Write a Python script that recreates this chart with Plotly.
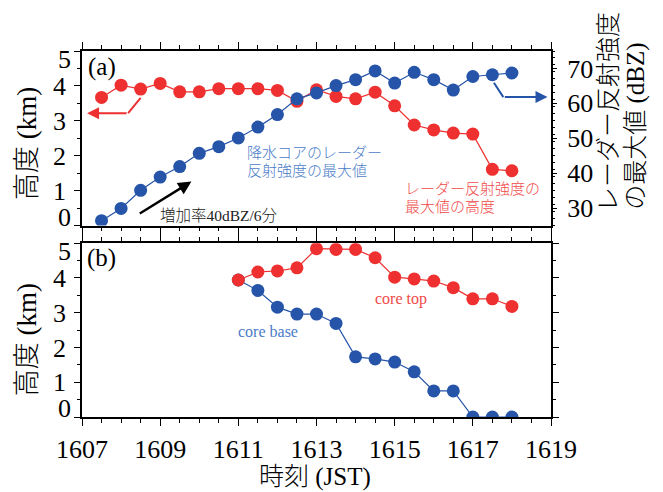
import plotly.graph_objects as go

# Time (JST, HHMM) of each radar scan
times_a = [1607.5, 1608.0, 1608.5, 1609.0, 1609.5, 1610.0, 1610.5, 1611.0, 1611.5, 1612.0, 1612.5,
           1613.0, 1613.5, 1614.0, 1614.5, 1615.0, 1615.5, 1616.0, 1616.5, 1617.0, 1617.5, 1618.0]
# (a) maximum reflectivity of the precipitation core (dBZ)
max_dbz = [26.4, 29.9, 35.1, 38.9, 41.9, 45.7, 47.6, 50.1, 53.2, 56.8, 61.3,
           63.0, 65.1, 66.8, 69.3, 65.8, 68.9, 66.8, 63.8, 67.7, 68.2, 68.7]
# (a) height of the reflectivity maximum (km)
max_height = [3.67, 4.02, 3.91, 4.07, 3.83, 3.83, 3.92, 3.92, 3.92, 3.87, 3.56,
              3.89, 3.70, 3.63, 3.82, 3.43, 2.88, 2.74, 2.65, 2.62, 1.61, 1.57]

times_b = [1611.0, 1611.5, 1612.0, 1612.5, 1613.0, 1613.5, 1614.0, 1614.5,
           1615.0, 1615.5, 1616.0, 1616.5, 1617.0, 1617.5, 1618.0]
# (b) core top / core base heights (km)
core_top = [3.94, 4.17, 4.20, 4.29, 4.84, 4.82, 4.82, 4.58,
            4.02, 3.97, 3.91, 3.72, 3.40, 3.40, 3.18]
core_base = [3.94, 3.64, 3.16, 2.96, 2.96, 2.69, 1.73, 1.67,
             1.58, 1.30, 0.75, 0.75, 0.0, 0.0, 0.0]

x_ticks = [1607, 1609, 1611, 1613, 1615, 1617, 1619]
km_ticks = [0, 1, 2, 3, 4, 5]
# inner labels drawn by the axis; the end labels (0 and 5) are nudged inward as annotations
km_ticktext = ["", "1", "2", "3", "4", ""]
dbz_ticks = [30, 40, 50, 60, 70]

RED = "#EE3030"
BLUE = "#2554A8"
RED_TXT = "#F04848"
BLUE_TXT = "#4A7CC8"
FONT = "Liberation Serif, Noto Sans CJK JP, serif"
TICK_SIZE = 26

fig = go.Figure()

fig.add_trace(go.Scatter(x=times_a, y=max_height, xaxis="x", yaxis="y", mode="lines+markers",
                         line=dict(color=RED, width=1.2), marker=dict(color=RED, size=13),
                         showlegend=False))
fig.add_trace(go.Scatter(x=times_a, y=max_dbz, xaxis="x", yaxis="y2", mode="lines+markers",
                         line=dict(color=BLUE, width=1.2), marker=dict(color=BLUE, size=13),
                         showlegend=False))
fig.add_trace(go.Scatter(x=times_b, y=core_base, xaxis="x2", yaxis="y3", mode="lines+markers",
                         line=dict(color=BLUE, width=1.2), marker=dict(color=BLUE, size=13),
                         showlegend=False))
fig.add_trace(go.Scatter(x=times_b, y=core_top, xaxis="x2", yaxis="y3", mode="lines+markers",
                         line=dict(color=RED, width=1.2), marker=dict(color=RED, size=13),
                         showlegend=False))

tickfont = dict(family=FONT, size=TICK_SIZE, color="black")
common_x = dict(range=[1607, 1619], tickvals=x_ticks, ticks="outside", ticklen=7, tickwidth=1.3,
                tickcolor="black", showline=True, linecolor="black", linewidth=1.5,
                mirror="ticks", showgrid=False, zeroline=False, tickfont=tickfont,
                minor=dict(dtick=0.5, tick0=1607, ticks="outside", ticklen=4, tickcolor="black",
                           tickwidth=1.1, showgrid=False))
common_y = dict(range=[0, 5], tickvals=km_ticks, ticktext=km_ticktext, ticks="outside", ticklen=6,
                tickwidth=1.3, tickcolor="black", showline=True, linecolor="black", linewidth=1.5,
                showgrid=False, zeroline=False, tickfont=tickfont, ticklabelstandoff=3,
                minor=dict(dtick=0.5, tick0=0, ticks="outside", ticklen=3, tickcolor="black",
                           tickwidth=1.1, showgrid=False))

top_dom = [0.523, 1.0]
bot_dom = [0.0, 0.475]

fig.update_layout(
    width=663, height=492,
    margin=dict(l=82, r=112, t=51, b=75),
    paper_bgcolor="white", plot_bgcolor="white",
    font=dict(family=FONT, color="black"),
    xaxis=dict(common_x, anchor="y", showticklabels=False),
    yaxis=dict(common_y, domain=top_dom, anchor="x", mirror=True),
    yaxis2=dict(range=[25, 75], tickvals=dbz_ticks, overlaying="y", side="right",
                anchor="x", ticks="outside", ticklen=5, tickwidth=1.3, tickcolor="black",
                showline=False, showgrid=False, zeroline=False, tickfont=tickfont,
                ticklabelstandoff=5,
                minor=dict(dtick=2, tick0=25, ticks="outside", ticklen=3, tickcolor="black",
                           tickwidth=1.0, showgrid=False)),
    xaxis2=dict(common_x, anchor="y3", showticklabels=True, ticklabelstandoff=1),
    yaxis3=dict(common_y, domain=bot_dom, anchor="x2", mirror="ticks"),
)

ann = []
# end labels of the height axes, nudged inward
for yref, pos in (("y", [(0, 0.22), (5, 4.76)]), ("y3", [(0, 0.25), (5, 4.77)])):
    for val, ypos in pos:
        ann.append(dict(x=0, xref="paper", xanchor="right", xshift=-9, y=ypos, yref=yref,
                        text=str(val), showarrow=False, font=tickfont))
# panel labels
ann.append(dict(x=1607.5, y=4.53, xref="x", yref="y", text="(a)", showarrow=False,
                font=dict(family=FONT, size=25, color="black")))
ann.append(dict(x=1607.5, y=4.57, xref="x2", yref="y3", text="(b)", showarrow=False,
                font=dict(family=FONT, size=25, color="black")))
# series annotations in (a)
ann.append(dict(x=1611.17, y=2.07, xref="x", yref="y", text="降水コアのレーダー", showarrow=False,
                xanchor="left", font=dict(size=15, color=BLUE_TXT, weight=300)))
ann.append(dict(x=1611.17, y=1.59, xref="x", yref="y", text="反射強度の最大値", showarrow=False,
                xanchor="left", font=dict(size=15, color=BLUE_TXT, weight=300)))
ann.append(dict(x=1615.22, y=1.06, xref="x", yref="y", text="レーダー反射強度の", showarrow=False,
                xanchor="left", font=dict(size=15, color=RED_TXT, weight=300)))
ann.append(dict(x=1615.22, y=0.55, xref="x", yref="y", text="最大値の高度", showarrow=False,
                xanchor="left", font=dict(size=15, color=RED_TXT, weight=300)))
ann.append(dict(x=1608.94, y=0.30, xref="x", yref="y", text="増加率40dBZ/6分", showarrow=False,
                xanchor="left", font=dict(size=15.5, color="#222222", weight=300)))
# growth-rate arrow
ann.append(dict(x=1609.8, y=1.26, xref="x", yref="y", ax=1608.44, ay=0.32, axref="x", ayref="y",
                text="", showarrow=True, arrowhead=2, arrowsize=1.1, arrowwidth=2.4,
                arrowcolor="black"))
# axis pointers: red -> left axis, blue -> right axis
ann.append(dict(x=1607.13, y=3.22, xref="x", yref="y", ax=1608.18, ay=3.22, axref="x", ayref="y",
                text="", showarrow=True, arrowhead=2, arrowsize=1.2, arrowwidth=2,
                arrowcolor=RED))
ann.append(dict(x=1618.91, y=61.8, xref="x", yref="y2", ax=1617.78, ay=61.8, axref="x", ayref="y2",
                text="", showarrow=True, arrowhead=2, arrowsize=1.2, arrowwidth=2,
                arrowcolor=BLUE))
# (b) labels
ann.append(dict(x=1615.17, y=3.39, xref="x2", yref="y3", text="core top", showarrow=False,
                font=dict(family=FONT, size=16, color=RED_TXT)))
ann.append(dict(x=1611.76, y=2.47, xref="x2", yref="y3", text="core base", showarrow=False,
                font=dict(family=FONT, size=16, color=BLUE_TXT)))
# axis titles
title_font = dict(family=FONT, size=27, color="black", weight=300)
ann.append(dict(x=0, xshift=-55, xanchor="center", y=2.34, xref="paper", yref="y",
                text="高度 (km)", textangle=-90, showarrow=False, font=title_font))
ann.append(dict(x=0, xshift=-55, xanchor="center", y=2.21, xref="paper", yref="y3",
                text="高度 (km)", textangle=-90, showarrow=False, font=title_font))
right_font = dict(family=FONT, size=25, color="black", weight=300)
ann.append(dict(x=1, xshift=57, xanchor="center", y=57.5, xref="paper", yref="y2",
                text="レーダー反射強度", textangle=-90, showarrow=False, font=right_font))
ann.append(dict(x=1, xshift=85, xanchor="center", y=53.3, xref="paper", yref="y2",
                text="の最大値 (dBZ)", textangle=-90, showarrow=False, font=right_font))
ann.append(dict(x=0.4965, xanchor="center", y=0, yshift=-60, xref="paper", yref="paper",
                text="時刻 (JST)", showarrow=False, yanchor="middle",
                font=dict(family=FONT, size=25, color="black", weight=300)))
fig.update_layout(annotations=ann)

# bent tails of the axis pointers
fig.add_shape(type="line", xref="x", yref="y", x0=1608.5, y0=3.655, x1=1608.18, y1=3.22,
              line=dict(color=RED, width=2))
fig.add_shape(type="line", xref="x", yref="y2", x0=1617.54, y0=65.9, x1=1617.78, y1=61.8,
              line=dict(color=BLUE, width=2))

fig.write_html("out.html")
